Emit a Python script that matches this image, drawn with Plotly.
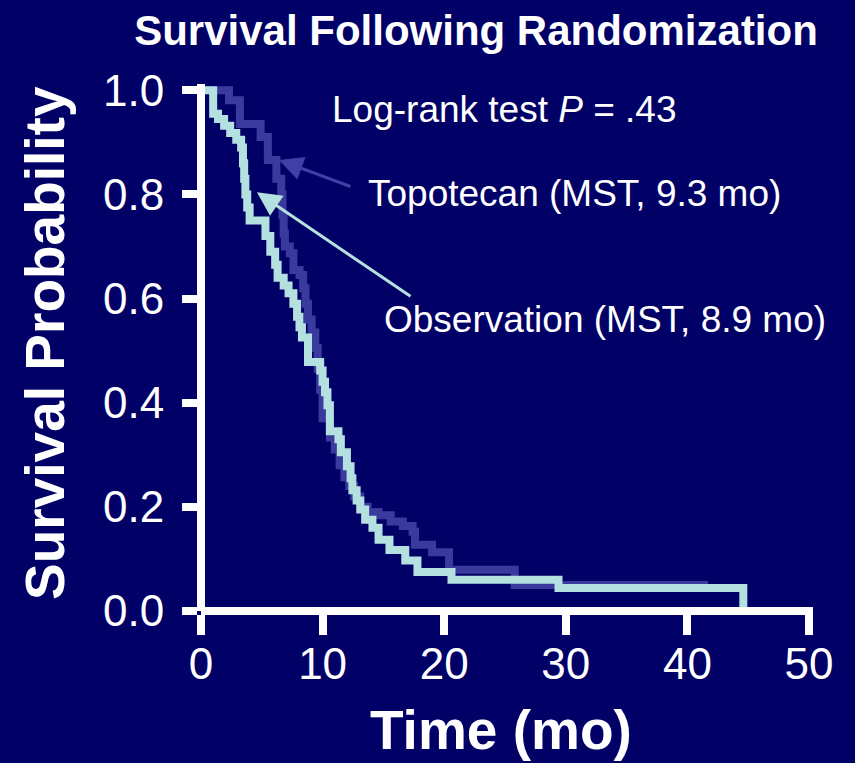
import plotly.graph_objects as go

# Kaplan-Meier step estimates (time in months, survival after each event)
obs_time = [0, 1.0, 1.4, 1.9, 2.4, 2.9, 3.3, 3.45, 3.55, 3.65, 3.8, 4.0, 5.3, 5.7,
            6.1, 6.3, 6.8, 7.2, 7.6, 7.9, 8.1, 8.3, 8.8, 9.8, 10.0, 10.2, 10.4,
            10.6, 11.3, 11.5, 12.0, 12.3, 12.45, 12.8, 13.1, 13.5, 14.1, 14.6,
            15.5, 16.8, 17.8, 20.6, 29.4, 44.6]
obs_surv = [1.0, 0.955, 0.945, 0.932, 0.918, 0.905, 0.89, 0.86, 0.83, 0.80, 0.775,
            0.75, 0.72, 0.69, 0.665, 0.64, 0.625, 0.61, 0.59, 0.565, 0.545, 0.525,
            0.478, 0.462, 0.44, 0.42, 0.395, 0.345, 0.33, 0.305, 0.278, 0.255,
            0.232, 0.212, 0.195, 0.175, 0.16, 0.137, 0.117, 0.097, 0.075, 0.06,
            0.044, 0.0]

topo_time = [0, 2.3, 3.2, 4.9, 5.5, 6.2, 6.6, 6.7, 6.8, 6.9, 7.3, 7.6, 8.1, 8.4,
             8.6, 8.8, 9.1, 9.4, 9.6, 9.8, 10.0, 10.6, 11.0, 11.4, 11.8, 12.2,
             12.6, 13.1, 13.7, 14.6, 15.6, 16.6, 17.4, 17.6, 19.0, 20.4, 25.8, 41.7]
topo_surv = [1.0, 0.981, 0.935, 0.91, 0.866, 0.83, 0.80, 0.76, 0.725, 0.70, 0.687,
             0.655, 0.645, 0.62, 0.59, 0.56, 0.535, 0.505, 0.465, 0.425, 0.37,
             0.333, 0.31, 0.28, 0.257, 0.24, 0.22, 0.20, 0.19, 0.184, 0.172, 0.163,
             0.152, 0.127, 0.113, 0.079, 0.05, 0.05]

x_ticks = [0, 10, 20, 30, 40, 50]
y_ticks = [0.0, 0.2, 0.4, 0.6, 0.8, 1.0]
y_tick_text = ["0.0", "0.2", "0.4", "0.6", "0.8", "1.0"]

BG = "#000066"
TOPO_COLOR = "#3a3a9e"
OBS_COLOR = "#b5e0e0"
FONT = "Arial, Liberation Sans, Helvetica, sans-serif"

fig = go.Figure()
fig.add_trace(go.Scatter(
    x=topo_time, y=topo_surv, mode="lines", line_shape="hv",
    line=dict(color=TOPO_COLOR, width=8), name="Topotecan", showlegend=False,
))
fig.add_trace(go.Scatter(
    x=obs_time, y=obs_surv, mode="lines", line_shape="hv",
    line=dict(color=OBS_COLOR, width=8), name="Observation", showlegend=False,
))

axis_common = dict(
    showgrid=False, zeroline=False, showline=True, linecolor="white", linewidth=8,
    ticks="outside", tickcolor="white", tickwidth=8,
    tickfont=dict(family=FONT, size=44, color="white"),
    anchor="free", position=0,
)
fig.update_xaxes(range=[0, 50.33], tickvals=x_ticks, ticklen=20,
                 ticklabelstandoff=-9, **axis_common)
fig.update_yaxes(range=[0, 1.012], tickvals=y_ticks, ticktext=y_tick_text,
                 ticklen=15, ticklabelstandoff=9, **axis_common)

annotations = [
    # axis titles
    dict(text="<b>Time (mo)</b>", xref="paper", yref="paper", x=(501 - 201) / 612,
         y=-(763 - 611) / 527, xanchor="center", yanchor="bottom", showarrow=False,
         font=dict(family=FONT, size=55, color="white")),
    dict(text="<b>Survival Probability</b>", xref="paper", yref="paper",
         x=-(201 - 45) / 612, y=(611 - 343) / 527, xanchor="center", yanchor="middle",
         textangle=-90, showarrow=False,
         font=dict(family=FONT, size=55, color="white")),
    # test statistic
    dict(text="Log-rank test <i>P</i> = .43", xref="paper", yref="paper",
         x=(330 - 201) / 612, y=(611 - 110) / 527, xanchor="left", yanchor="middle",
         showarrow=False, font=dict(family=FONT, size=37, color="white")),
    # group labels
    dict(text="Topotecan (MST, 9.3 mo)", xref="paper", yref="paper",
         x=(366 - 201) / 612, y=(611 - 193) / 527, xanchor="left", yanchor="middle",
         showarrow=False, font=dict(family=FONT, size=37, color="white")),
    dict(text="Observation (MST, 8.9 mo)", xref="paper", yref="paper",
         x=(382 - 201) / 612, y=(611 - 319) / 527, xanchor="left", yanchor="middle",
         showarrow=False, font=dict(family=FONT, size=37, color="white")),
    # pointer arrows to each curve
    dict(text="", x=6.41, y=0.866, xref="x", yref="y", ax=73, ay=27,
         showarrow=True, arrowhead=2, arrowsize=1.6, arrowwidth=3,
         arrowcolor="#3f3fa6", standoff=0),
    dict(text="", x=4.6, y=0.804, xref="x", yref="y", ax=155, ay=105,
         showarrow=True, arrowhead=2, arrowsize=1.6, arrowwidth=3,
         arrowcolor=OBS_COLOR, standoff=0),
]

fig.update_layout(
    width=855, height=763,
    margin=dict(l=201, r=42, t=84, b=152, autoexpand=False),
    paper_bgcolor=BG, plot_bgcolor=BG,
    title=dict(text="<b>Survival Following Randomization</b>",
               font=dict(family=FONT, size=42, color="white"),
               xref="container", yref="container", x=476 / 855, y=1 - 30 / 763,
               xanchor="center", yanchor="middle"),
    annotations=annotations,
    showlegend=False,
)

fig.write_html("out.html")
